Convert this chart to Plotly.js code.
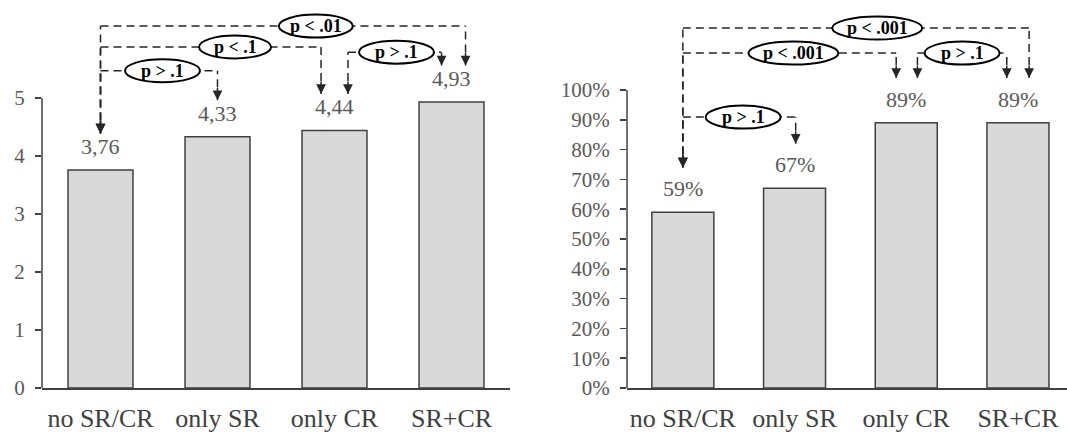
<!DOCTYPE html>
<html>
<head>
<meta charset="utf-8">
<script src="https://cdn.plot.ly/plotly-3.0.1.min.js"></script>
<style>html,body{margin:0;padding:0;background:#fff;}#chart{width:1067px;height:435px;}</style>
</head>
<body>
<div id="chart"></div>
<script>
// ---------------- DATA ----------------
const categories = ['no SR/CR', 'only SR', 'only CR', 'SR+CR'];
const scoreValues = [3.76, 4.33, 4.44, 4.93];
const shareValues = [0.59, 0.67, 0.89, 0.89];
const scoreTicks = [0, 1, 2, 3, 4, 5];
const shareTicks = [0, 0.1, 0.2, 0.3, 0.4, 0.5, 0.6, 0.7, 0.8, 0.9, 1.0];

// pairwise comparisons (category indices) and their p-labels
const scoreCmpFrom = [0, 0, 0, 2];
const scoreCmpTo = [3, 2, 1, 3];
const scoreCmpLabels = ['p < .01', 'p < .1', 'p > .1', 'p > .1'];
const shareCmpFrom = [0, 0, 2, 0];
const shareCmpTo = [3, 2, 3, 1];
const shareCmpLabels = ['p < .001', 'p < .001', 'p > .1', 'p > .1'];

// ---------------- LAYOUT / STYLE ----------------
const W = 1067, H = 435;
const FONT = 'Liberation Serif, Times New Roman, serif';
const GRAY = '#595959', DARK = '#404040';
const scoreBracket = {
  level: [6.24, 5.88, 5.47, 5.79],
  fromOff: [0, 0, 0, 0.115],
  toOff: [0.12, -0.115, 0, -0.085],
  labelX: [1.84, 1.15, 0.53, 2.53],
  tipGap: 0.63
};
const shareBracket = {
  level: [1.208, 1.124, 1.124, 0.909],
  fromOff: [0, 0, 0.1, 0],
  toOff: [0.1, -0.09, -0.1, 0.01],
  labelX: [1.74, 0.99, 2.5, 0.54],
  tipGap: 0.15
};
const ellipseW = {'p < .01': 74, 'p < .1': 72, 'p > .1': 75, 'p < .001': 90};
const ellipseH = 23;

const shapes = [];
const annotations = [];

function addChart(xr, yr, values, from, to, labels, br, fmt) {
  const idx = categories.map((c, i) => i);
  // axis line
  shapes.push({type: 'line', xref: xr + ' domain', yref: yr, x0: 0, x1: 0, y0: 0,
    y1: (yr === 'y' ? scoreTicks[scoreTicks.length - 1] : shareTicks[shareTicks.length - 1]),
    line: {color: DARK, width: 1.5}});
  // value labels
  idx.forEach(i => {
    annotations.push({xref: xr, yref: yr, x: i, y: values[i], text: fmt(values[i]),
      showarrow: false, yanchor: 'bottom', yshift: 9,
      font: {family: FONT, size: 22, color: GRAY}});
  });
  const dash = {color: '#262626', width: 1.5, dash: '8px,5px'};
  // vertical + horizontal lines
  from.forEach((f, k) => {
    const t = to[k];
    const xa = f + br.fromOff[k], xb = t + br.toOff[k];
    const lv = br.level[k];
    const tipA = values[f] + br.tipGap, tipB = values[t] + br.tipGap;
    shapes.push({type: 'line', xref: xr, yref: yr, x0: xa, x1: xa, y0: tipA, y1: lv, line: dash});
    shapes.push({type: 'line', xref: xr, yref: yr, x0: xb, x1: xb, y0: tipB, y1: lv, line: dash});
    shapes.push({type: 'line', xref: xr, yref: yr, x0: xa, x1: xb, y0: lv, y1: lv, line: dash});
    [[xa, tipA], [xb, tipB]].forEach(p => {
      annotations.push({xref: xr, yref: yr, x: p[0], y: p[1], ax: 0, ay: -14, text: '',
        showarrow: true, arrowhead: 2, arrowsize: 1.3, arrowwidth: 1.5, arrowcolor: '#262626', standoff: 0});
    });
  });
  // ellipses + p labels
  from.forEach((f, k) => {
    const w = ellipseW[labels[k]];
    shapes.push({type: 'circle', xref: xr, yref: yr, xsizemode: 'pixel', ysizemode: 'pixel',
      xanchor: br.labelX[k], yanchor: br.level[k], x0: -w / 2, x1: w / 2,
      y0: -ellipseH / 2, y1: ellipseH / 2, fillcolor: '#fff', line: {color: '#000', width: 2}});
    annotations.push({xref: xr, yref: yr, x: br.labelX[k], y: br.level[k], text: '<b>' + labels[k] + '</b>',
      showarrow: false, font: {family: FONT, size: 18, color: '#000'}});
  });
}

addChart('x', 'y', scoreValues, scoreCmpFrom, scoreCmpTo, scoreCmpLabels, scoreBracket,
  v => v.toFixed(2).replace('.', ','));
addChart('x2', 'y2', shareValues, shareCmpFrom, shareCmpTo, shareCmpLabels, shareBracket,
  v => Math.round(v * 100) + '%');

const barStyle = {color: '#d9d9d9', line: {color: DARK, width: 1.5}};
const traces = [
  {type: 'bar', x: categories, y: scoreValues, xaxis: 'x', yaxis: 'y', marker: barStyle, hoverinfo: 'none'},
  {type: 'bar', x: categories, y: shareValues, xaxis: 'x2', yaxis: 'y2', marker: barStyle, hoverinfo: 'none'}
];

const xCommon = {type: 'category', showline: true, linecolor: DARK, linewidth: 1.5, ticks: '',
  showgrid: false, zeroline: false, ticklabelstandoff: 6,
  tickfont: {family: FONT, size: 26, color: DARK}};
const yCommon = {showline: false, ticks: 'outside', ticklen: 6, tickwidth: 1.5, tickcolor: DARK,
  showgrid: false, zeroline: false, ticklabelstandoff: 6, domain: [47 / H, 1],
  tickfont: {family: FONT, size: 21, color: GRAY}};

const layout = {
  width: W, height: H, margin: {l: 0, r: 0, t: 0, b: 0},
  paper_bgcolor: '#fff', plot_bgcolor: 'rgba(0,0,0,0)', showlegend: false,
  bargap: 0.445,
  xaxis: Object.assign({}, xCommon, {domain: [42 / W, 510 / W], range: [-0.5, 3.5], anchor: 'y'}),
  yaxis: Object.assign({}, yCommon, {range: [0, 388 / 58], tickvals: scoreTicks, anchor: 'x'}),
  xaxis2: Object.assign({}, xCommon, {domain: [627 / W, 1], range: [-0.5, 3.439], anchor: 'y2'}),
  yaxis2: Object.assign({}, yCommon, {range: [0, 388 / 298], tickvals: shareTicks, tickformat: '.0%', anchor: 'x2'}),
  shapes: shapes,
  annotations: annotations
};

Plotly.newPlot('chart', traces, layout, {staticPlot: true, displayModeBar: false});
</script>
</body>
</html>
